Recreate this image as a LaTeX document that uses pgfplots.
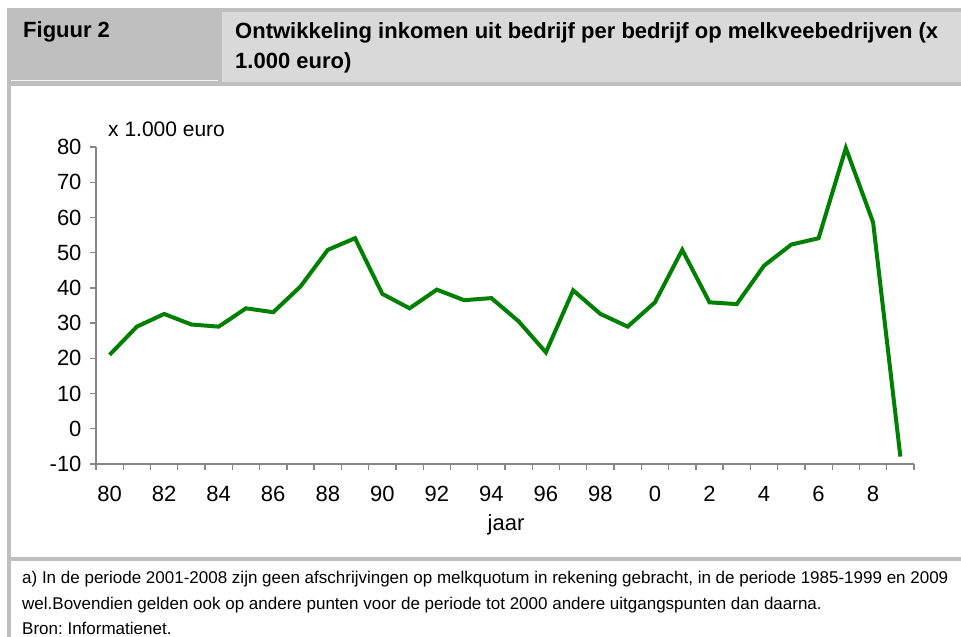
\documentclass[border=0pt]{standalone}
\usepackage{fontspec}
\setmainfont{Liberation Sans}
\newfontfamily\narrow{Liberation Sans}[FakeStretch=1.0]
\usepackage{pgfplots}
\pgfplotsset{compat=1.18}
\definecolor{hdr}{RGB}{191,191,191}
\definecolor{hdrlight}{RGB}{217,217,217}
\definecolor{axgray}{RGB}{134,134,134}
\definecolor{lgreen}{RGB}{0,128,0}
\frenchspacing
\begin{document}
\begin{tikzpicture}
\useasboundingbox (0,0) rectangle (961pt,637pt);
\fill[white] (0,0) rectangle (961pt,637pt);
% header
\fill[hdr] (7pt,551pt) rectangle (961pt,629pt);
\fill[hdrlight] (222pt,555pt) rectangle (961pt,625pt);
\fill[white!85!hdr] (11pt,555.5pt) rectangle (218pt,556.5pt);
% borders
\fill[hdr] (7pt,0pt) rectangle (11pt,551pt);
\fill[hdr] (7pt,76pt) rectangle (961pt,80pt);
% header texts
\node[anchor=base west, inner sep=0pt, font=\fontsize{22}{26}\selectfont\bfseries] at (23pt,599pt) {Figuur 2};
\node[anchor=base west, inner sep=0pt, font=\fontsize{22}{26}\selectfont\bfseries] at (235pt,598pt) {Ontwikkeling inkomen uit bedrijf per bedrijf op melkveebedrijven (x};
\node[anchor=base west, inner sep=0pt, font=\fontsize{22}{26}\selectfont\bfseries] at (235pt,568pt) {1.000 euro)};
% footnote
\node[anchor=base west, inner sep=0pt, font=\fontsize{17}{20}\selectfont] at (22pt,53pt) {a) In de periode 2001-2008 zijn geen afschrijvingen op melkquotum in rekening gebracht, in de periode 1985-1999 en 2009};
\node[anchor=base west, inner sep=0pt, font=\fontsize{17}{20}\selectfont] at (22pt,27pt) {wel.Bovendien gelden ook op andere punten voor de periode tot 2000 andere uitgangspunten dan daarna.};
\node[anchor=base west, inner sep=0pt, font=\fontsize{17}{20}\selectfont] at (22pt,2pt) {Bron: Informatienet.};
% axis labels
\node[anchor=base west, inner sep=0pt, font=\fontsize{21}{25}\selectfont] at (108pt,500pt) {x 1.000 euro};
\node[anchor=base, inner sep=0pt, font=\fontsize{22}{26}\selectfont] at (506pt,106pt) {jaar};
\begin{axis}[
  at={(96pt,173pt)}, anchor=south west,
  scale only axis, width=818pt, height=317pt,
  xmin=1979.5, xmax=2009.5, ymin=-10, ymax=80,
  axis x line*=bottom, axis y line*=left,
  axis line style={axgray, line width=1.3pt},
  tick style={axgray, line width=1.3pt},
  tick align=outside, major tick length=6pt,
  xtick={1979.5,1980.5,...,2009.5}, xticklabels={},
  extra x ticks={1980,1982,...,2008},
  extra x tick labels={80,82,84,86,88,90,92,94,96,98,0,2,4,6,8},
  extra x tick style={major tick length=0pt, xticklabel style={yshift=-19pt}},
  ytick={-10,0,...,80},
  yticklabels={-10,0,10,20,30,40,50,60,70,80},
  yticklabel style={xshift=-5pt},
  tick label style={font=\fontsize{22}{26}\selectfont},
  clip=false,
]
\addplot[lgreen, line width=4pt, mark=none] table {
x y
1980 21.0
1981 29.0
1982 32.6
1983 29.6
1984 29.0
1985 34.2
1986 33.1
1987 40.4
1988 50.8
1989 54.1
1990 38.3
1991 34.2
1992 39.5
1993 36.5
1994 37.1
1995 30.5
1996 21.7
1997 39.3
1998 32.6
1999 29.0
2000 35.9
2001 50.8
2002 35.9
2003 35.4
2004 46.3
2005 52.3
2006 54.1
2007 79.7
2008 58.6
2009 -7.9
};
\end{axis}
\end{tikzpicture}
\end{document}
